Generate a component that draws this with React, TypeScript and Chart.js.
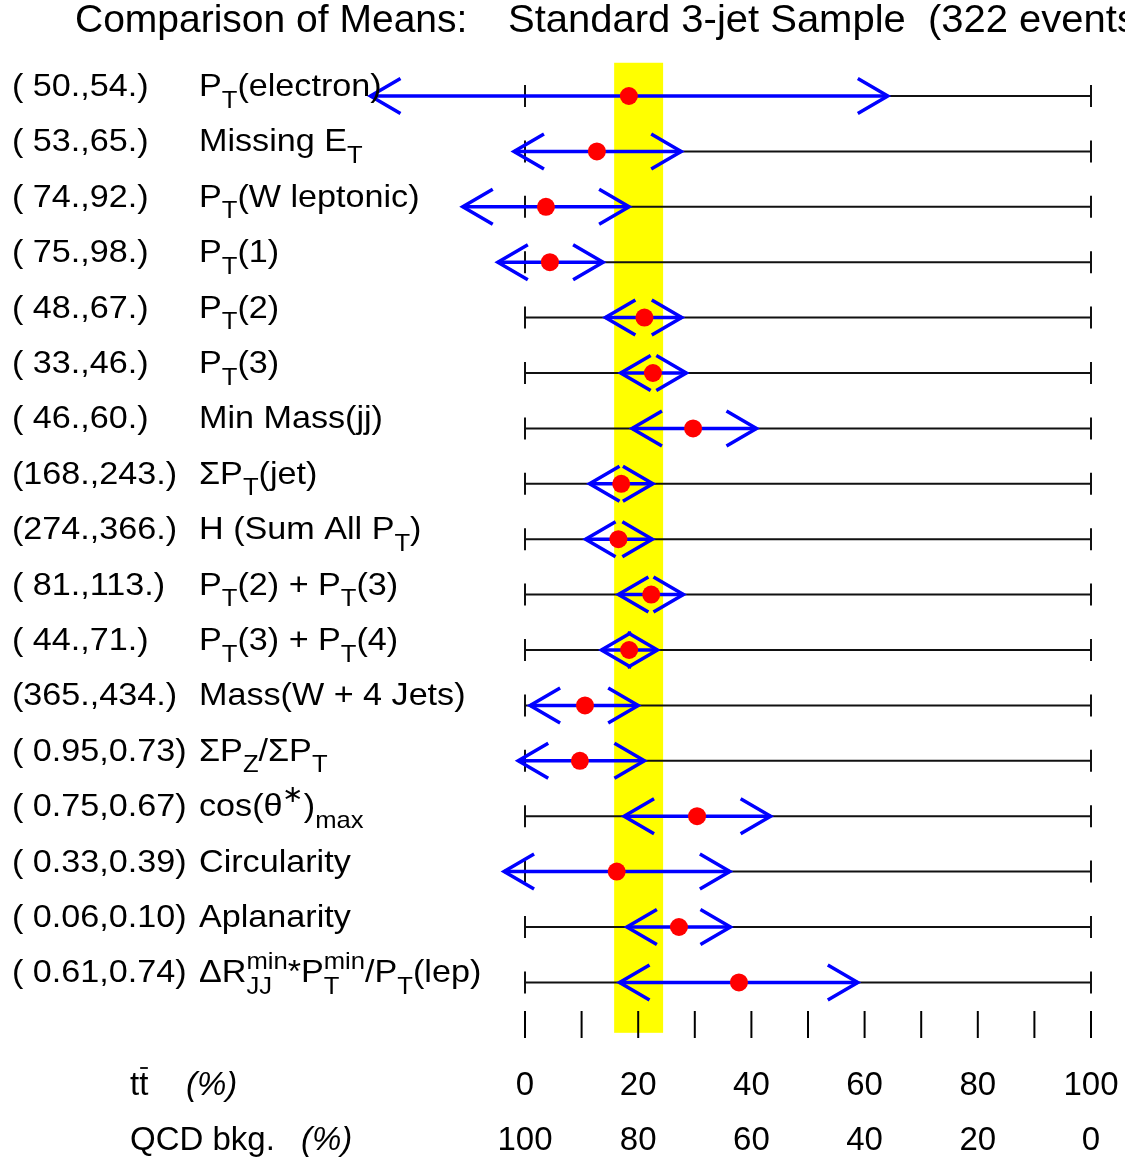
import React, { useEffect, useRef } from "react";
import { Chart, registerables } from "chart.js";
Chart.register(...registerables);

// ---------- data ----------
const variableNames = [
  "P_{T}(electron)",
  "Missing E_{T}",
  "P_{T}(W leptonic)",
  "P_{T}(1)",
  "P_{T}(2)",
  "P_{T}(3)",
  "Min Mass(jj)",
  "ΣP_{T}(jet)",
  "H (Sum All P_{T})",
  "P_{T}(2) + P_{T}(3)",
  "P_{T}(3) + P_{T}(4)",
  "Mass(W + 4 Jets)",
  "ΣP_{Z}/ΣP_{T}",
  "cos(θ^{∗})_{max}",
  "Circularity",
  "Aplanarity",
  "ΔR^{min}_{JJ}*P^{min}_{T}/P_{T}(lep)",
];
const meanPairs = [
  "( 50.,54.)",
  "( 53.,65.)",
  "( 74.,92.)",
  "( 75.,98.)",
  "( 48.,67.)",
  "( 33.,46.)",
  "( 46.,60.)",
  "(168.,243.)",
  "(274.,366.)",
  "( 81.,113.)",
  "( 44.,71.)",
  "(365.,434.)",
  "( 0.95,0.73)",
  "( 0.75,0.67)",
  "( 0.33,0.39)",
  "( 0.06,0.10)",
  "( 0.61,0.74)",
];
const arrowLow = [-27.3, -1.95, -11.0, -4.8, 14.2, 16.9, 18.9, 11.4, 10.7, 16.5, 13.5, 0.9, -1.2, 17.5, -3.7, 18.0, 16.7];
const arrowHigh = [64.1, 27.6, 18.4, 13.8, 27.7, 28.5, 40.9, 22.6, 22.5, 28.0, 23.4, 20.0, 21.1, 43.4, 36.2, 36.3, 58.8];
const meanValue = [18.35, 12.7, 3.7, 4.4, 21.1, 22.6, 29.7, 17.0, 16.5, 22.3, 18.4, 10.6, 9.7, 30.4, 16.2, 27.2, 37.8];
const bandX = [15.75, 24.4];
const bandY = [0.4, 17.91];
const scaleTicks = [0, 10, 20, 30, 40, 50, 60, 70, 80, 90, 100];
const scaleTickRow = 17.76;
const ttbarLabels = [0, 20, 40, 60, 80, 100];
const qcdLabels = [100, 80, 60, 40, 20, 0];
const titleLeft = "Comparison of Means:";
const titleRight = "Standard 3-jet Sample  (322 events)";

// ---------- rich text ----------
type Seg = { k: "n" | "sub" | "sup" | "ss"; t: string; sub?: string; sup?: string };
function parseRich(s: string): Seg[] {
  const out: Seg[] = [];
  let buf = "";
  let i = 0;
  const readGroup = (start: number) => {
    const end = s.indexOf("}", start);
    return { txt: s.slice(start, end), next: end + 1 };
  };
  while (i < s.length) {
    const c = s[i];
    if ((c === "_" || c === "^") && s[i + 1] === "{") {
      if (buf) { out.push({ k: "n", t: buf }); buf = ""; }
      const g = readGroup(i + 2);
      i = g.next;
      const other = c === "_" ? "^" : "_";
      if (s[i] === other && s[i + 1] === "{") {
        const g2 = readGroup(i + 2);
        i = g2.next;
        const sub = c === "_" ? g.txt : g2.txt;
        const sup = c === "^" ? g.txt : g2.txt;
        out.push({ k: "ss", t: "", sub, sup });
      } else {
        out.push({ k: c === "_" ? "sub" : "sup", t: g.txt });
      }
      continue;
    }
    buf += c;
    i++;
  }
  if (buf) out.push({ k: "n", t: buf });
  return out;
}

const FAMILY = '"Liberation Sans", Arial, Helvetica, sans-serif';

function drawRich(ctx: CanvasRenderingContext2D, s: string, x: number, y: number, size: number, sx: number) {
  const segs = parseRich(s);
  ctx.save();
  ctx.translate(x, y);
  ctx.scale(sx, 1);
  ctx.textAlign = "left";
  ctx.textBaseline = "alphabetic";
  ctx.fillStyle = "#000";
  const small = size * 0.75;
  let cx = 0;
  for (const sg of segs) {
    if (sg.k === "n") {
      ctx.font = `${size}px ${FAMILY}`;
      ctx.fillText(sg.t, cx, 0);
      cx += ctx.measureText(sg.t).width;
    } else if (sg.k === "sub") {
      ctx.font = `${small}px ${FAMILY}`;
      ctx.fillText(sg.t, cx, size * 0.36);
      cx += ctx.measureText(sg.t).width;
    } else if (sg.k === "sup") {
      ctx.font = `${small}px ${FAMILY}`;
      ctx.fillText(sg.t, cx, -size * 0.45);
      cx += ctx.measureText(sg.t).width;
    } else {
      ctx.font = `${small}px ${FAMILY}`;
      ctx.fillText(sg.sup || "", cx, -size * 0.42);
      ctx.fillText(sg.sub || "", cx, size * 0.36);
      cx += Math.max(ctx.measureText(sg.sup || "").width, ctx.measureText(sg.sub || "").width);
    }
  }
  ctx.restore();
}

function drawPlain(ctx: CanvasRenderingContext2D, s: string, x: number, y: number, font: string, align: CanvasTextAlign, sx = 1) {
  ctx.save();
  ctx.translate(x, y);
  ctx.scale(sx, 1);
  ctx.font = font;
  ctx.textAlign = align;
  ctx.textBaseline = "alphabetic";
  ctx.fillStyle = "#000";
  ctx.fillText(s, 0, 0);
  ctx.restore();
}

export default function App() {
  const ref = useRef<HTMLCanvasElement | null>(null);
  useEffect(() => {
    document.body.style.margin = "0";
    const canvas = ref.current!;
    const rows = variableNames.map((_, i) => i + 1);

    const bandPlugin = {
      id: "band",
      beforeDatasetsDraw(chart: any) {
        const { ctx, scales } = chart;
        const x0 = scales.x.getPixelForValue(bandX[0]);
        const x1 = scales.x.getPixelForValue(bandX[1]);
        const y0 = scales.y.getPixelForValue(bandY[0]);
        const y1 = scales.y.getPixelForValue(bandY[1]);
        ctx.save();
        ctx.fillStyle = "#ffff00";
        ctx.fillRect(x0, Math.min(y0, y1), x1 - x0, Math.abs(y1 - y0));
        ctx.restore();
      },
    };

    const arrowPlugin = {
      id: "arrowheads",
      afterDatasetDraw(chart: any, args: any) {
        const ds = chart.data.datasets[args.index] as any;
        if (!ds.isArrow) return;
        const { ctx, scales } = chart;
        const pts = ds.data;
        const y = scales.y.getPixelForValue(pts[0].y);
        const xl = scales.x.getPixelForValue(pts[0].x);
        const xr = scales.x.getPixelForValue(pts[1].x);
        const dx = 30, dy = 17.5;
        ctx.save();
        ctx.strokeStyle = "#0000ff";
        ctx.lineWidth = 3.5;
        ctx.lineCap = "butt";
        ctx.lineJoin = "miter";
        ctx.beginPath();
        ctx.moveTo(xl + dx, y - dy);
        ctx.lineTo(xl, y);
        ctx.lineTo(xl + dx, y + dy);
        ctx.moveTo(xr - dx, y - dy);
        ctx.lineTo(xr, y);
        ctx.lineTo(xr - dx, y + dy);
        ctx.stroke();
        ctx.restore();
      },
    };

    const textPlugin = {
      id: "texts",
      afterDraw(chart: any) {
        const { ctx, scales } = chart;
        drawPlain(ctx, titleLeft, 75, 32, `39px ${FAMILY}`, "left", 1.0);
        drawPlain(ctx, titleRight, 508, 32, `39px ${FAMILY}`, "left", 1.025);
        rows.forEach((r, i) => {
          const y = scales.y.getPixelForValue(r);
          drawRich(ctx, meanPairs[i], 12, y, 32, 1.067);
          drawRich(ctx, variableNames[i], 199, y, 32, 1.067);
        });
        const yA = 1095;
        const yB = 1150;
        ttbarLabels.forEach((v) => {
          drawPlain(ctx, String(v), scales.x.getPixelForValue(v), yA, `33px ${FAMILY}`, "center");
        });
        qcdLabels.forEach((v, i) => {
          drawPlain(ctx, String(v), scales.x.getPixelForValue(ttbarLabels[i]), yB, `33px ${FAMILY}`, "center");
        });
        // t tbar label
        ctx.save();
        ctx.font = `33px ${FAMILY}`;
        ctx.fillStyle = "#000";
        ctx.textBaseline = "alphabetic";
        ctx.fillText("t", 130, yA);
        const tw = ctx.measureText("t").width;
        ctx.fillText("t", 130 + tw, yA);
        ctx.strokeStyle = "#000";
        ctx.lineWidth = 1.8;
        ctx.beginPath();
        ctx.moveTo(130 + tw + 1, yA - 27);
        ctx.lineTo(130 + tw * 2 - 0.5, yA - 27);
        ctx.stroke();
        ctx.font = `italic 33px ${FAMILY}`;
        ctx.fillText("(%)", 186, yA);
        ctx.font = `33px ${FAMILY}`;
        ctx.fillText("QCD bkg.", 130, yB);
        ctx.font = `italic 33px ${FAMILY}`;
        ctx.fillText("(%)", 301, yB);
        ctx.restore();
      },
    };

    const datasets: any[] = [];
    datasets.push({
      label: "means",
      data: rows.map((r, i) => ({ x: meanValue[i], y: r })),
      showLine: false,
      pointRadius: 9,
      pointBackgroundColor: "#ff0000",
      pointBorderWidth: 0,
      borderWidth: 0,
      clip: false,
    });
    rows.forEach((r, i) => {
      datasets.push({
        label: "arrow" + r,
        isArrow: true,
        data: [{ x: arrowLow[i], y: r }, { x: arrowHigh[i], y: r }],
        showLine: true,
        borderColor: "#0000ff",
        borderWidth: 3.5,
        pointRadius: 0,
        clip: false,
      });
    });
    rows.forEach((r) => {
      datasets.push({
        label: "row" + r,
        data: [{ x: scaleTicks[0], y: r }, { x: scaleTicks[scaleTicks.length - 1], y: r }],
        showLine: true,
        borderColor: "#111",
        borderWidth: 2,
        pointStyle: "line",
        rotation: 90,
        pointRadius: 11,
        pointBorderColor: "#111",
        pointBorderWidth: 2,
        clip: false,
      });
    });
    datasets.push({
      label: "scale ticks",
      data: scaleTicks.map((v) => ({ x: v, y: scaleTickRow })),
      showLine: false,
      pointStyle: "line",
      rotation: 90,
      pointRadius: 13.5,
      pointBorderColor: "#000",
      pointBorderWidth: 2,
      clip: false,
    });

    const chart = new Chart(canvas, {
      type: "scatter",
      data: { datasets },
      options: {
        animation: false,
        responsive: false,
        devicePixelRatio: 1,
        layout: { padding: { left: 525, right: 34, top: 96, bottom: 124.2 } },
        scales: {
          x: { type: "linear", min: 0, max: 100, display: false },
          y: { type: "linear", min: 1, max: 18, reverse: true, display: false },
        },
        plugins: { legend: { display: false }, tooltip: { enabled: false }, title: { display: false } },
        events: [],
      } as any,
      plugins: [bandPlugin, arrowPlugin, textPlugin],
    });
    return () => chart.destroy();
  }, []);
  return <canvas ref={ref} width={1125} height={1162} style={{ display: "block" }} />;
}
